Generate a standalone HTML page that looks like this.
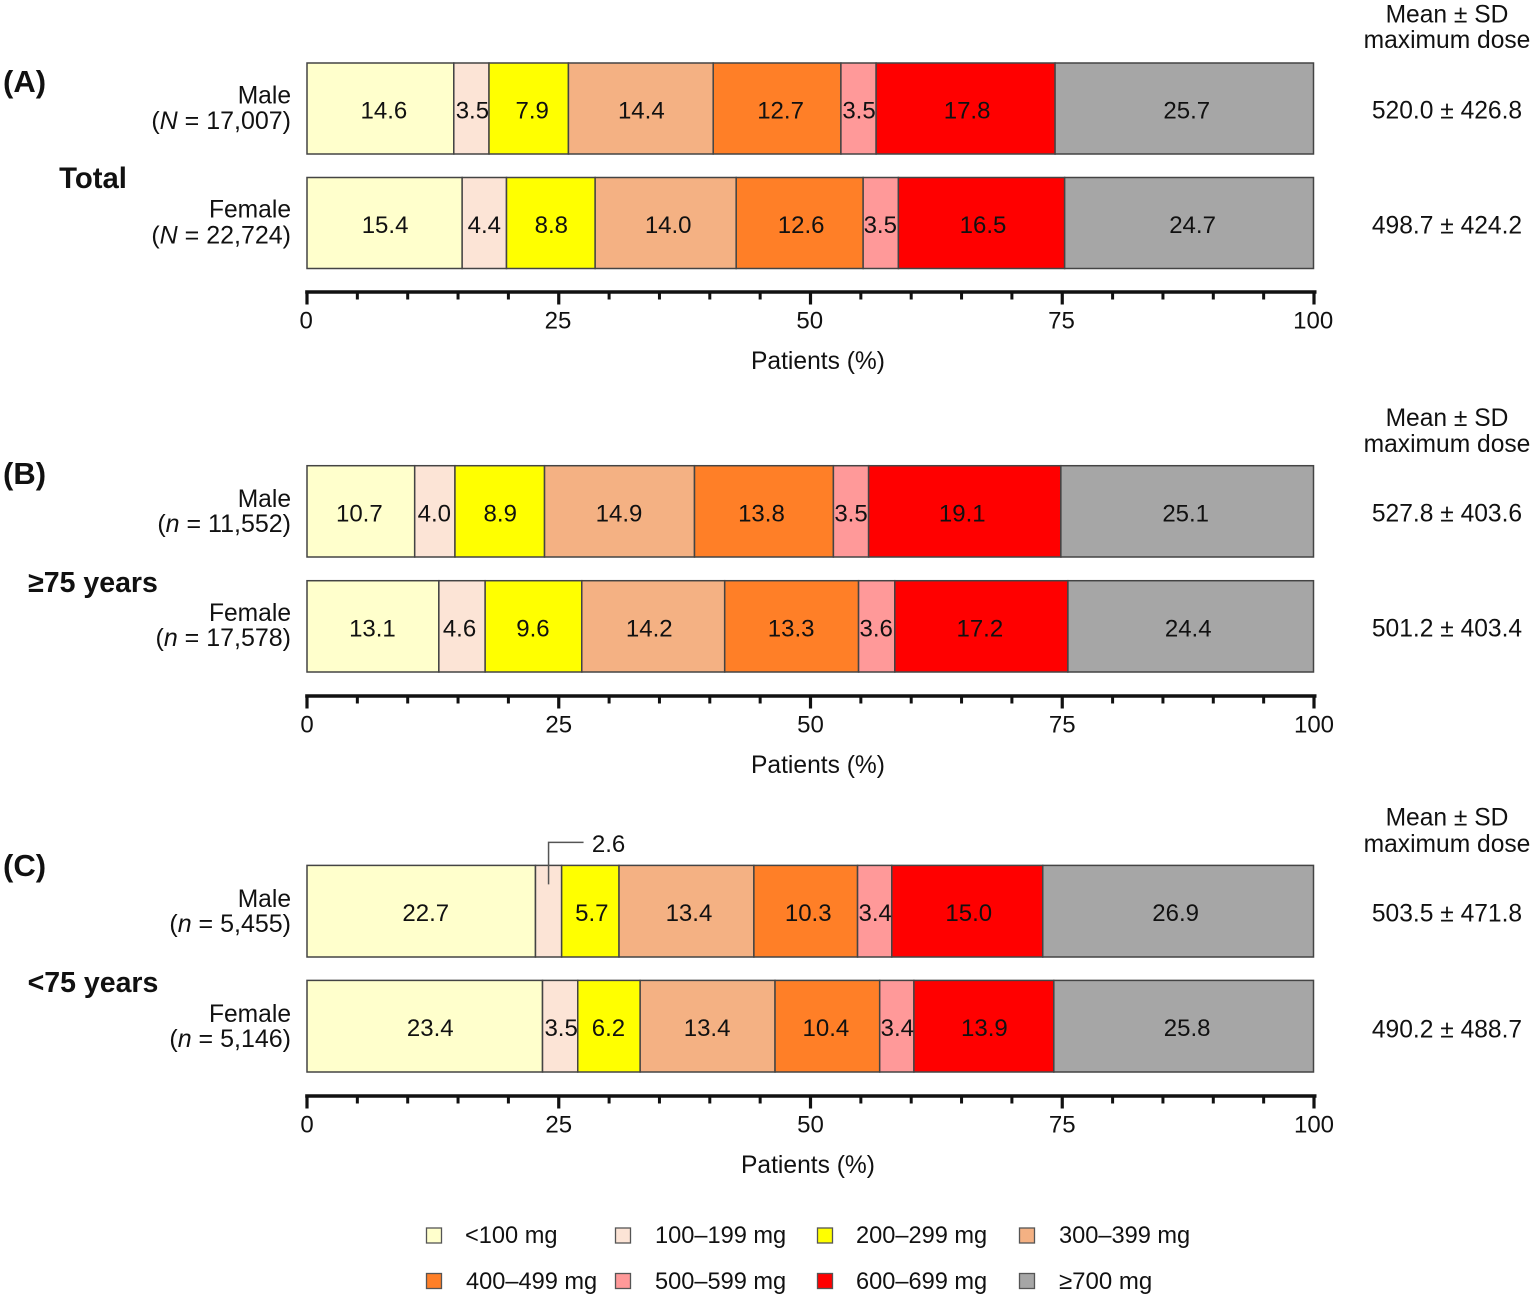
<!DOCTYPE html>
<html lang="en">
<head>
<meta charset="utf-8">
<title>Maximum dose distribution by sex and age</title>
<style>
html,body{margin:0;padding:0;background:#fff;}
body{width:1535px;height:1299px;overflow:hidden;}
svg{display:block;}
text{font-family:"Liberation Sans",Arial,sans-serif;fill:#111;font-size:24.6px;}
.end{text-anchor:end;}
.mid{text-anchor:middle;}
.val{font-size:24px;text-anchor:middle;}
.bold{font-weight:bold;font-size:28.5px;}
.panel{font-weight:bold;font-size:31px;}
.leg{font-size:23.6px;}
</style>
</head>
<body>
<svg id="chart" xmlns="http://www.w3.org/2000/svg" width="1535" height="1299" viewBox="0 0 1535 1299">
  <rect width="1535" height="1299" fill="#fff"/>

  <text class="panel" x="3" y="92">(A)</text>
  <text class="bold mid" x="93" y="188" style="font-size:29.3px">Total</text>
  <text class="end" x="291" y="103.5">Male</text>
  <text class="end" x="291" y="129" style="font-size:25px">(<tspan font-style="italic">N</tspan> = 17,007)</text>
  <text class="end" x="291" y="217.5">Female</text>
  <text class="end" x="291" y="243.5" style="font-size:25px">(<tspan font-style="italic">N</tspan> = 22,724)</text>
  <text class="mid" x="1447" y="22.5">Mean ± SD</text>
  <text class="mid" x="1447" y="48">maximum dose</text>
  <text class="mid" x="1447" y="118.5">520.0 ± 426.8</text>
  <text class="mid" x="1447" y="233.5">498.7 ± 424.2</text>
  <text class="mid" x="818" y="369">Patients (%)</text>

  <text class="panel" x="3" y="484">(B)</text>
  <text class="bold mid" x="93" y="592">≥75 years</text>
  <text class="end" x="291" y="507">Male</text>
  <text class="end" x="291" y="532" style="font-size:25px">(<tspan font-style="italic">n</tspan> = 11,552)</text>
  <text class="end" x="291" y="621">Female</text>
  <text class="end" x="291" y="646" style="font-size:25px">(<tspan font-style="italic">n</tspan> = 17,578)</text>
  <text class="mid" x="1447" y="426">Mean ± SD</text>
  <text class="mid" x="1447" y="452">maximum dose</text>
  <text class="mid" x="1447" y="521.5">527.8 ± 403.6</text>
  <text class="mid" x="1447" y="636.5">501.2 ± 403.4</text>
  <text class="mid" x="818" y="773">Patients (%)</text>

  <text class="panel" x="3" y="876">(C)</text>
  <text class="bold mid" x="93" y="992">&lt;75 years</text>
  <text class="end" x="291" y="907">Male</text>
  <text class="end" x="291" y="932" style="font-size:25px">(<tspan font-style="italic">n</tspan> = 5,455)</text>
  <text class="end" x="291" y="1022">Female</text>
  <text class="end" x="291" y="1047" style="font-size:25px">(<tspan font-style="italic">n</tspan> = 5,146)</text>
  <text class="mid" x="1447" y="825.5">Mean ± SD</text>
  <text class="mid" x="1447" y="852">maximum dose</text>
  <text class="mid" x="1447" y="921.5">503.5 ± 471.8</text>
  <text class="mid" x="1447" y="1037.5">490.2 ± 488.7</text>
  <text class="mid" x="808" y="1173">Patients (%)</text>

  <g id="marks"></g>

  <g stroke-width="1.3">
    <rect x="426.5" y="1228" width="15" height="15" fill="#FFFFCC" stroke="#555"/>
    <text class="leg" x="465" y="1243" stroke="none">&lt;100 mg</text>
    <rect x="615.5" y="1228" width="15" height="15" fill="#FCE4D6" stroke="#555"/>
    <text class="leg" x="655" y="1243" stroke="none">100–199 mg</text>
    <rect x="817.5" y="1228" width="15" height="15" fill="#FFFF00" stroke="#555"/>
    <text class="leg" x="856" y="1243" stroke="none">200–299 mg</text>
    <rect x="1019.5" y="1228" width="15" height="15" fill="#F4B183" stroke="#555"/>
    <text class="leg" x="1059" y="1243" stroke="none">300–399 mg</text>
    <rect x="426.5" y="1273.5" width="15" height="15" fill="#FF7F27" stroke="#555"/>
    <text class="leg" x="466" y="1289" stroke="none">400–499 mg</text>
    <rect x="615.5" y="1273.5" width="15" height="15" fill="#FF9999" stroke="#555"/>
    <text class="leg" x="655" y="1289" stroke="none">500–599 mg</text>
    <rect x="817.5" y="1273.5" width="15" height="15" fill="#FF0000" stroke="#555"/>
    <text class="leg" x="856" y="1289" stroke="none">600–699 mg</text>
    <rect x="1019.5" y="1273.5" width="15" height="15" fill="#A6A6A6" stroke="#555"/>
    <text class="leg" x="1059" y="1289" stroke="none" style="font-size:24px">≥700 mg</text>
  </g>
</svg>

<script>
// Chart data: percentage of patients in each dose band
const doseBands = ['<100 mg', '100-199 mg', '200-299 mg', '300-399 mg', '400-499 mg', '500-599 mg', '600-699 mg', '>=700 mg'];
const totalMale = [14.6, 3.5, 7.9, 14.4, 12.7, 3.5, 17.8, 25.7];
const totalFemale = [15.4, 4.4, 8.8, 14.0, 12.6, 3.5, 16.5, 24.7];
const over75Male = [10.7, 4.0, 8.9, 14.9, 13.8, 3.5, 19.1, 25.1];
const over75Female = [13.1, 4.6, 9.6, 14.2, 13.3, 3.6, 17.2, 24.4];
const under75Male = [22.7, 2.6, 5.7, 13.4, 10.3, 3.4, 15.0, 26.9];
const under75Female = [23.4, 3.5, 6.2, 13.4, 10.4, 3.4, 13.9, 25.8];
const majorTicks = [0, 25, 50, 75, 100];
const minorTicks = [5, 10, 15, 20, 30, 35, 40, 45, 55, 60, 65, 70, 80, 85, 90, 95];
const bandColors = ['#FFFFCC', '#FCE4D6', '#FFFF00', '#F4B183', '#FF7F27', '#FF9999', '#FF0000', '#A6A6A6'];

const SVGNS = 'http://www.w3.org/2000/svg';
const marks = document.getElementById('marks');
const X0 = 307;
const X100 = 1314;
const xAxis = function (pct) { return X0 + (X100 - X0) * pct / 100; };
const barEnd = 1313.5;
const barX = function (pct, total) { return X0 + (barEnd - X0) * pct / total; };

function make(tag, parent) {
  const el = document.createElementNS(SVGNS, tag);
  parent.appendChild(el);
  return el;
}

// labelShift: small per-label horizontal styling adjustment around each segment centre
function drawBar(values, top, height, prefix, labelShift) {
  const total = values.reduce(function (a, b) { return a + b; }, 0);
  let cum = 0;
  values.forEach(function (v, i) {
    const x1 = barX(cum, total);
    const x2 = barX(cum + v, total);
    cum += v;
    const r = make('rect', marks);
    
    
    r.setAttribute('x', x1);
    r.setAttribute('y', top);
    r.setAttribute('width', x2 - x1);
    r.setAttribute('height', height);
    r.setAttribute('fill', bandColors[i]);
    r.setAttribute('stroke', '#444');
    r.setAttribute('stroke-width', '1.5');
  });
  cum = 0;
  values.forEach(function (v, i) {
    const x1 = barX(cum, total);
    const x2 = barX(cum + v, total);
    cum += v;
    const cx = (x1 + x2) / 2;
    const t = make('text', marks);
    
    
    t.setAttribute('class', 'val');
    t.textContent = v.toFixed(1);
    if (v < 3) {
      t.setAttribute('x', cx + 60);
      t.setAttribute('y', top - 13.5);
      const p = make('path', marks);
      
      
      p.setAttribute('d', 'M' + (cx + 35) + ' ' + (top - 23) + 'H' + cx + 'V' + (top + 19));
      p.setAttribute('fill', 'none');
      p.setAttribute('stroke', '#555');
      p.setAttribute('stroke-width', '1.5');
    } else {
      t.setAttribute('x', cx + 1.5 + labelShift[i]);
      t.setAttribute('y', top + height / 2 + 10);
    }
  });
}

function drawAxis(y, prefix, labelDx) {
  const line = make('line', marks);
  
  
  line.setAttribute('x1', xAxis(0) - 1.8);
  line.setAttribute('x2', xAxis(100) + 2.5);
  line.setAttribute('y1', y);
  line.setAttribute('y2', y);
  line.setAttribute('stroke', '#111');
  line.setAttribute('stroke-width', '3.5');
  minorTicks.forEach(function (v) {
    const t = make('line', marks);
    
    
    t.setAttribute('x1', xAxis(v));
    t.setAttribute('x2', xAxis(v));
    t.setAttribute('y1', y);
    t.setAttribute('y2', y + 7.5);
    t.setAttribute('stroke', '#111');
    t.setAttribute('stroke-width', '3');
  });
  majorTicks.forEach(function (v) {
    const t = make('line', marks);
    
    
    t.setAttribute('x1', xAxis(v));
    t.setAttribute('x2', xAxis(v));
    t.setAttribute('y1', y);
    t.setAttribute('y2', y + 12.5);
    t.setAttribute('stroke', '#111');
    t.setAttribute('stroke-width', '3.2');
    const l = make('text', marks);
    
    
    l.setAttribute('class', 'val');
    l.setAttribute('x', xAxis(v) + labelDx);
    l.setAttribute('y', y + 36.5);
    l.textContent = v;
  });
}

drawBar(totalMale, 63, 91, 'panel-a-male', [2, -0.5, 2, -1, 2, -1, 0, 1]);
drawBar(totalFemale, 177.5, 91, 'panel-a-female', [-1, -1.5, -1, 1, 0, -2, 0, 2]);
drawAxis(292, 'panel-a', -0.8);
drawBar(over75Male, 465.7, 91.3, 'panel-b-male', [-3, -2, -1, -2, -4, -1.5, -4, -3]);
drawBar(over75Female, 580.7, 91.3, 'panel-b-female', [-2, -4, -2, -5.5, -2, -2, -3, -4]);
drawAxis(696, 'panel-b', 0);
drawBar(under75Male, 865.4, 91.6, 'panel-c-male', [3, 0, 0, 1, 1, -1, 0, -4]);
drawBar(under75Female, 980.4, 91.6, 'panel-c-female', [4, -0.5, -2, -2, -3, -1, -1, 2]);
drawAxis(1096, 'panel-c', 0);
</script>
</body>
</html>
